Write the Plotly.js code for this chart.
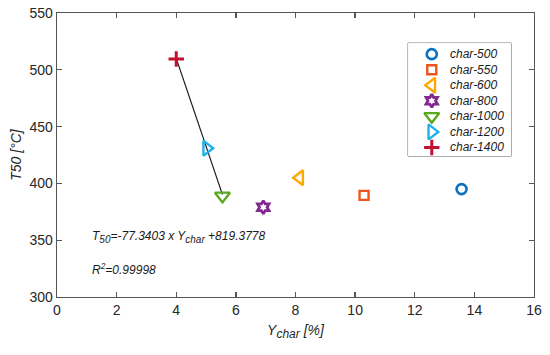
<!DOCTYPE html>
<html>
<head>
<meta charset="utf-8">
<script src="https://cdn.plot.ly/plotly-3.0.1.min.js"></script>
<style>html,body{margin:0;padding:0;background:#fff;}#chart{width:550px;height:355px;}</style>
</head>
<body>
<div id="chart"></div>
<script>
const names = ["char-500","char-550","char-600","char-800","char-1000","char-1200","char-1400"];
const yChar = [13.57, 10.3, 8.14, 6.92, 5.55, 5.02, 4.0];
const t50 = [395, 389.5, 405, 379, 389, 431, 509.5];
const symbols = ["circle-open","square-open","triangle-left-open","hexagram-open","triangle-down-open","triangle-right-open","cross-thin-open"];
const colors = ["#0A72C4","#F0531E","#FFA800","#83288F","#5BA81E","#1EB2EA","#C4102F"];
const sizes = [10, 9, 13, 10, 13, 13, 11];
const widths = [2.6, 2.4, 2.4, 2.8, 2.4, 2.4, 3];
const fitSlope = [-77.3403];
const fitIntercept = [819.3778];
const fitRange = [4.0, 5.55];

const traces = [];
traces.push({
  type: "scatter", mode: "lines", showlegend: false, hoverinfo: "skip",
  x: fitRange, y: fitRange.map(v => fitSlope[0]*v + fitIntercept[0]),
  line: {color: "#1a1a1a", width: 1.2}
});
names.forEach((n, i) => {
  const mk = {symbol: symbols[i], size: sizes[i], color: colors[i], line: {color: colors[i], width: widths[i]}};
  traces.push({type: "scatter", mode: "markers", name: n, showlegend: false,
    x: [yChar[i]], y: [t50[i]], marker: mk});
  // legend entry drawn on a small overlay axis
  traces.push({type: "scatter", mode: "markers", name: n + " (legend)", showlegend: false,
    xaxis: "x2", yaxis: "y2", x: [0.23], y: [i], marker: mk, hoverinfo: "skip"});
});

const axisCommon = {
  showline: true, mirror: "ticks", linecolor: "#555", linewidth: 1.3,
  ticks: "inside", ticklen: 5, tickcolor: "#555", tickwidth: 1.3,
  showgrid: false, zeroline: false,
  tickfont: {family: "Liberation Sans, Arial", size: 14, color: "#262626"}
};

const sub = t => '<sub><span style="font-size:10px">' + t + '</span></sub>';

const legendBox = {x0: 0.736, x1: 0.952, y0: 0.496, y1: 0.894};

const annotations = [
  {x: 1.1, y: 353, xref: "x", yref: "y", xanchor: "left", showarrow: false,
   text: "<i>T" + sub("50") + "=-77.3403 x Y" + sub("char") + " +819.3778</i>", font: {size: 12, color: "#1a1a1a"}},
  {x: 1.1, y: 325, xref: "x", yref: "y", xanchor: "left", showarrow: false,
   text: "<i>R<sup>2</sup>=0.99998</i>", font: {size: 12, color: "#1a1a1a"}}
];
names.forEach((n, i) => annotations.push({
  x: 0.39, y: i, xref: "x2", yref: "y2", xanchor: "left", yanchor: "middle", showarrow: false,
  text: "<i>" + n + "</i>", font: {family: "Liberation Sans, Arial", size: 12, color: "#1a1a1a"}
}));

const hidden = {visible: false, showgrid: false, zeroline: false, fixedrange: true};

const layout = {
  width: 550, height: 355,
  margin: {l: 57, r: 16, t: 13, b: 58},
  paper_bgcolor: "#fff", plot_bgcolor: "#fff",
  font: {family: "Liberation Sans, Arial", color: "#262626"},
  showlegend: false,
  xaxis: Object.assign({}, axisCommon, {
    range: [0, 16], tickvals: [0,2,4,6,8,10,12,14,16], ticktext: ["0","2","4","6","8","10","12","14","16"],
    title: {text: '<i>Y<sub><span style="font-size:12px">char</span></sub> [%]</i>', font: {size: 14, color: "#262626"}, standoff: 8}
  }),
  yaxis: Object.assign({}, axisCommon, {
    range: [300, 550], tickvals: [300,350,400,450,500,550], ticktext: ["300","350","400","450","500","550"],
    title: {text: "<i>T50 [°C]</i>", font: {size: 14, color: "#262626"}, standoff: 4}
  }),
  xaxis2: Object.assign({}, hidden, {domain: [legendBox.x0, legendBox.x1], range: [0, 1], anchor: "y2"}),
  yaxis2: Object.assign({}, hidden, {domain: [legendBox.y0, legendBox.y1], range: [6.56, -0.71], anchor: "x2"}),
  shapes: [{type: "rect", xref: "paper", yref: "paper",
    x0: legendBox.x0, x1: legendBox.x1, y0: legendBox.y0, y1: legendBox.y1,
    line: {color: "#666", width: 1}, fillcolor: "rgba(255,255,255,1)", layer: "below"}],
  annotations: annotations
};

Plotly.newPlot("chart", traces, layout, {displayModeBar: false, staticPlot: true});
</script>
</body>
</html>
